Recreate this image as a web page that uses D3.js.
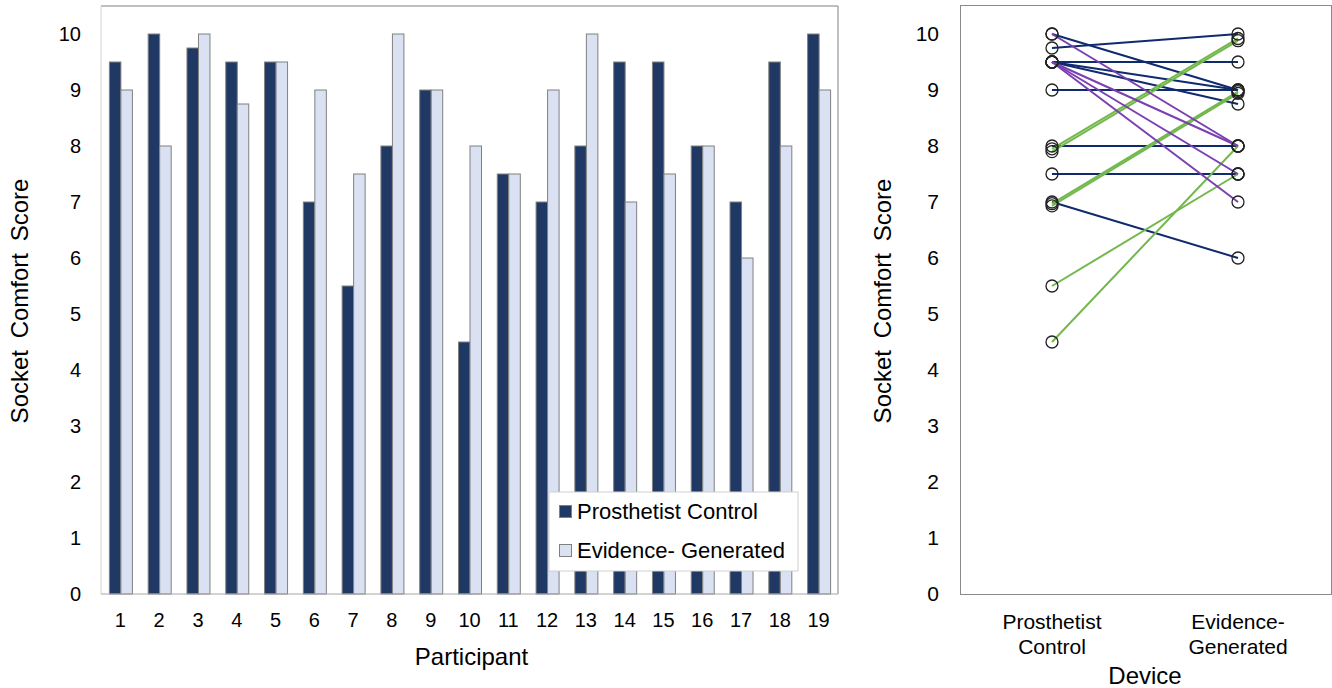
<!DOCTYPE html>
<html>
<head>
<meta charset="utf-8">
<script src="https://cdn.jsdelivr.net/npm/d3@7"></script>
<style>
  html, body { margin: 0; padding: 0; background: #fff; }
  svg { display: block; font-family: "Liberation Sans", Arial, sans-serif; }
</style>
</head>
<body>
<svg id="chart" width="1332" height="688"></svg>
<script>
// ---------- DATA ----------
const participants = ["1","2","3","4","5","6","7","8","9","10","11","12","13","14","15","16","17","18","19"];
const prosthetistControl = [9.5, 10, 9.75, 9.5, 9.5, 7, 5.5, 8, 9, 4.5, 7.5, 7, 8, 9.5, 9.5, 8, 7, 9.5, 10];
const evidenceGenerated = [9, 8, 10, 8.75, 9.5, 9, 7.5, 10, 9, 8, 7.5, 9, 10, 7, 7.5, 8, 6, 8, 9];
// small vertical jitter of the paired points
const pcJitter = [0, 0, 0, 0, 0, -0.03, 0, -0.05, 0, 0, 0, -0.07, -0.1, 0, 0, 0, 0, 0, 0];
const egJitter = [0, 0, 0, 0, 0, -0.03, 0, -0.08, 0, 0, 0, -0.06, -0.12, 0, 0, 0, 0, 0, 0];
// line group in the paired panel: "up" (green), "down" (purple), "same" (navy)
const changeGroup = ["same","down","same","same","same","up","up","up","same","up","same","up","up","down","down","same","same","down","same"];
const seriesNames = ["Prosthetist Control", "Evidence- Generated"];
const yTicks = [0,1,2,3,4,5,6,7,8,9,10];
const deviceLabels = [["Prosthetist","Control"],["Evidence-","Generated"]];

// ---------- STYLE ----------
const darkFill = "#203864", lightFill = "#d9e1f2", barStroke = "#808080";
const lineColors = { up: "#72b84c", down: "#7b3fb0", same: "#102a6e" };

const svg = d3.select("#chart");

// ================= LEFT: grouped bars =================
const L = { left: 101, right: 838, top: 6, bottom: 594 };
const yL = d3.scaleLinear().domain([0, 10]).range([L.bottom, 34]);
const x0 = d3.scaleBand().domain(participants).range([L.left, L.right])
  .paddingInner(0.407).paddingOuter(0.2035);
const x1 = d3.scaleBand().domain([0, 1]).range([0, x0.bandwidth()]);

const gL = svg.append("g");
// frame
gL.append("line").attr("x1", L.left).attr("x2", L.right).attr("y1", L.top).attr("y2", L.top).attr("stroke", "#808080");
gL.append("line").attr("x1", L.right).attr("x2", L.right).attr("y1", L.top).attr("y2", L.bottom).attr("stroke", "#808080");
gL.append("line").attr("x1", L.left).attr("x2", L.left).attr("y1", L.top).attr("y2", L.bottom).attr("stroke", "#d4d4d4");

const rows = participants.map((p, i) => ({ p, vals: [prosthetistControl[i], evidenceGenerated[i]] }));
const grp = gL.selectAll("g.grp").data(rows).join("g").attr("class", "grp")
  .attr("transform", d => `translate(${x0(d.p)},0)`);
grp.selectAll("rect").data(d => d.vals.map((v, k) => ({ v, k }))).join("rect")
  .attr("x", d => x1(d.k) + 0.5)
  .attr("width", x1.bandwidth())
  .attr("y", d => yL(d.v))
  .attr("height", d => yL(0) - yL(d.v))
  .attr("fill", d => d.k === 0 ? darkFill : lightFill)
  .attr("stroke", barStroke).attr("stroke-width", 1);

gL.append("line").attr("x1", L.left).attr("x2", L.right).attr("y1", L.bottom).attr("y2", L.bottom).attr("stroke", "#a6a6a6");

const axL = gL.append("g").attr("transform", `translate(${L.left},0)`)
  .call(d3.axisLeft(yL).tickValues(yTicks).tickFormat(d3.format("d")).tickSize(0).tickPadding(20));
axL.select(".domain").remove();
axL.selectAll("text").attr("font-size", 20).attr("fill", "#000").attr("font-family", "Liberation Sans, Arial, sans-serif");

const axB = gL.append("g").attr("transform", `translate(0,${L.bottom})`)
  .call(d3.axisBottom(x0).tickSize(0).tickPadding(19));
axB.select(".domain").remove();
axB.selectAll("text").attr("font-size", 20).attr("fill", "#000").attr("font-family", "Liberation Sans, Arial, sans-serif");

gL.append("text").attr("x", (L.left + L.right) / 2 + 2).attr("y", 665).attr("text-anchor", "middle")
  .attr("font-size", 24).text("Participant");
gL.append("text").attr("transform", "translate(28,301) rotate(-90)").attr("text-anchor", "middle")
  .attr("font-size", 24).attr("word-spacing", 5).text("Socket Comfort Score");

// legend
const lg = gL.append("g");
lg.append("rect").attr("x", 549).attr("y", 492).attr("width", 249).attr("height", 79)
  .attr("fill", "#fff").attr("stroke", "#d0d0d0");
seriesNames.forEach((name, k) => {
  const cy = 511 + k * 39;
  lg.append("rect").attr("x", 559.5).attr("y", cy - 5.5).attr("width", 12).attr("height", 12)
    .attr("fill", k === 0 ? darkFill : lightFill).attr("stroke", barStroke);
  lg.append("text").attr("x", 577).attr("y", cy + 8).attr("font-size", 22).attr("fill", "#000").text(name);
});

// ================= RIGHT: paired points =================
const R = { left: 960, right: 1331, top: 5, bottom: 594 };
const yR = d3.scaleLinear().domain([0, 10]).range([R.bottom, 34]);
const xR = d3.scalePoint().domain(["pc", "eg"]).range([1052, 1238]);

const gR = svg.append("g");
gR.append("rect").attr("x", R.left + 0.5).attr("y", R.top + 0.5)
  .attr("width", R.right - R.left).attr("height", R.bottom - R.top)
  .attr("fill", "none").attr("stroke", "#8a8a8a");

const pairs = participants.map((p, i) => ({
  pc: prosthetistControl[i] + pcJitter[i],
  eg: evidenceGenerated[i] + egJitter[i],
  g: changeGroup[i]
}));
const order = { same: 0, up: 1, down: 2 };
gR.selectAll("line.pair").data(pairs.slice().sort((a, b) => order[a.g] - order[b.g])).join("line").attr("class", "pair")
  .attr("x1", xR("pc")).attr("x2", xR("eg"))
  .attr("y1", d => yR(d.pc)).attr("y2", d => yR(d.eg))
  .attr("stroke", d => lineColors[d.g]).attr("stroke-width", 2);

const pts = [];
pairs.forEach(d => { pts.push({ x: "pc", v: d.pc }); pts.push({ x: "eg", v: d.eg }); });
gR.selectAll("circle").data(pts).join("circle")
  .attr("cx", d => xR(d.x)).attr("cy", d => yR(d.v)).attr("r", 6)
  .attr("fill", "none").attr("stroke", "#222").attr("stroke-width", 1.3);

const axR = gR.append("g").attr("transform", `translate(${R.left},0)`)
  .call(d3.axisLeft(yR).tickValues(yTicks).tickFormat(d3.format("d")).tickSize(0).tickPadding(21));
axR.select(".domain").remove();
axR.selectAll("text").attr("font-size", 21).attr("fill", "#000").attr("font-family", "Liberation Sans, Arial, sans-serif");

const xlab = gR.selectAll("text.dev").data(xR.domain()).join("text").attr("class", "dev")
  .attr("x", d => xR(d)).attr("y", 629).attr("text-anchor", "middle").attr("font-size", 21).attr("fill", "#000");
xlab.each(function (d, i) {
  const t = d3.select(this);
  deviceLabels[i].forEach((s, j) => t.append("tspan").attr("x", xR(d)).attr("dy", j === 0 ? 0 : 25).text(s));
});

gR.append("text").attr("x", 1145).attr("y", 684).attr("text-anchor", "middle").attr("font-size", 24).text("Device");
gR.append("text").attr("transform", "translate(891,301) rotate(-90)").attr("text-anchor", "middle")
  .attr("font-size", 24).attr("word-spacing", 5).text("Socket Comfort Score");
</script>
</body>
</html>
